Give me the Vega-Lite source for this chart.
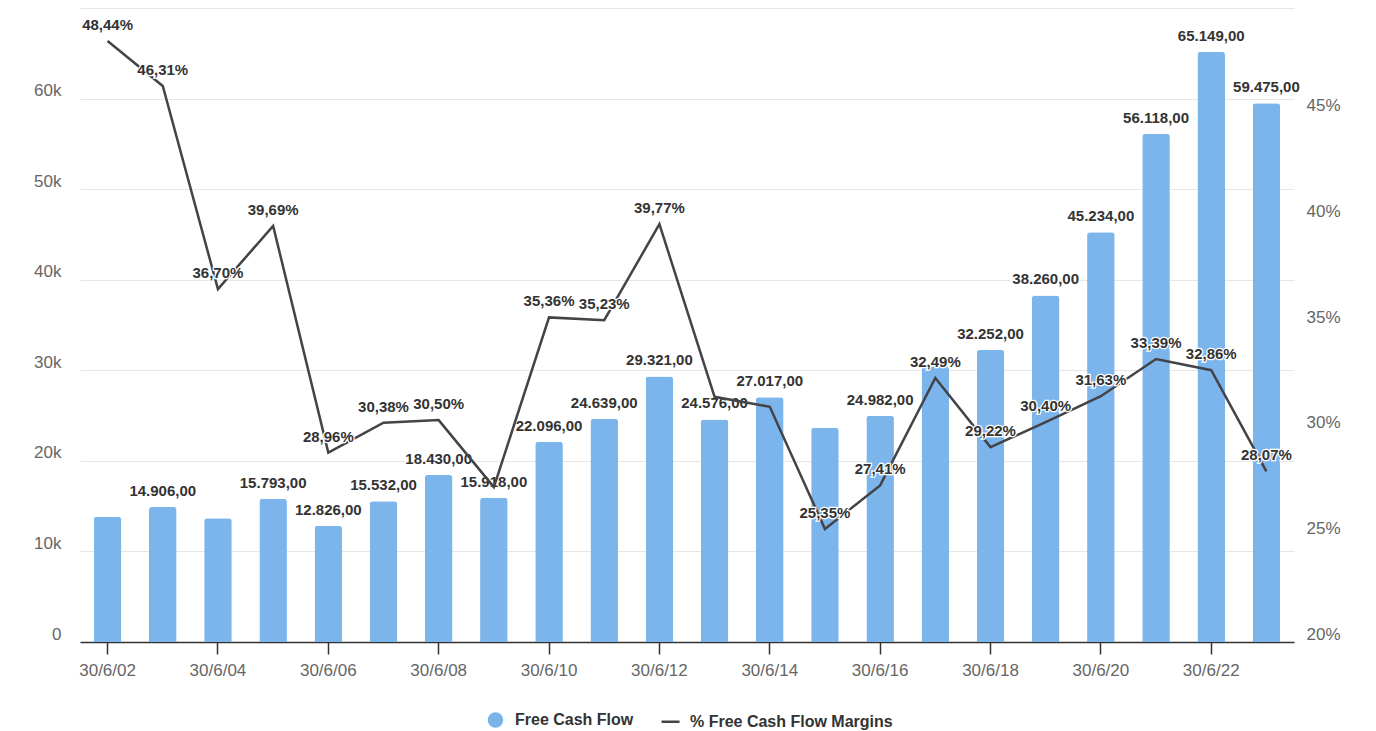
{
  "$schema": "https://vega.github.io/schema/vega-lite/v6.json",
  "width": 1214,
  "height": 634,
  "autosize": {"type": "none"},
  "padding": {"left": 80, "top": 8, "right": 82, "bottom": 89},
  "background": "white",
  "config": {
    "view": {"stroke": null},
    "font": "Liberation Sans",
    "axis": {"labelFont": "Liberation Sans", "labelFontSize": 17, "labelColor": "#666666", "title": null}
  },
  "data": {
    "values": [
      {"date": "30/6/02", "fcf": 13830, "fcfLabel": "", "margin": 48.44, "marginLabel": "48,44%"},
      {"date": "30/6/03", "fcf": 14906, "fcfLabel": "14.906,00", "margin": 46.31, "marginLabel": "46,31%"},
      {"date": "30/6/04", "fcf": 13675, "fcfLabel": "", "margin": 36.70, "marginLabel": "36,70%"},
      {"date": "30/6/05", "fcf": 15793, "fcfLabel": "15.793,00", "margin": 39.69, "marginLabel": "39,69%"},
      {"date": "30/6/06", "fcf": 12826, "fcfLabel": "12.826,00", "margin": 28.96, "marginLabel": "28,96%"},
      {"date": "30/6/07", "fcf": 15532, "fcfLabel": "15.532,00", "margin": 30.38, "marginLabel": "30,38%"},
      {"date": "30/6/08", "fcf": 18430, "fcfLabel": "18.430,00", "margin": 30.50, "marginLabel": "30,50%"},
      {"date": "30/6/09", "fcf": 15918, "fcfLabel": "15.918,00", "margin": 27.33, "marginLabel": ""},
      {"date": "30/6/10", "fcf": 22096, "fcfLabel": "22.096,00", "margin": 35.36, "marginLabel": "35,36%"},
      {"date": "30/6/11", "fcf": 24639, "fcfLabel": "24.639,00", "margin": 35.23, "marginLabel": "35,23%"},
      {"date": "30/6/12", "fcf": 29321, "fcfLabel": "29.321,00", "margin": 39.77, "marginLabel": "39,77%"},
      {"date": "30/6/13", "fcf": 24576, "fcfLabel": "24.576,00", "margin": 31.60, "marginLabel": ""},
      {"date": "30/6/14", "fcf": 27017, "fcfLabel": "27.017,00", "margin": 31.13, "marginLabel": ""},
      {"date": "30/6/15", "fcf": 23650, "fcfLabel": "", "margin": 25.35, "marginLabel": "25,35%"},
      {"date": "30/6/16", "fcf": 24982, "fcfLabel": "24.982,00", "margin": 27.41, "marginLabel": "27,41%"},
      {"date": "30/6/17", "fcf": 30440, "fcfLabel": "", "margin": 32.49, "marginLabel": "32,49%"},
      {"date": "30/6/18", "fcf": 32252, "fcfLabel": "32.252,00", "margin": 29.22, "marginLabel": "29,22%"},
      {"date": "30/6/19", "fcf": 38260, "fcfLabel": "38.260,00", "margin": 30.40, "marginLabel": "30,40%"},
      {"date": "30/6/20", "fcf": 45234, "fcfLabel": "45.234,00", "margin": 31.63, "marginLabel": "31,63%"},
      {"date": "30/6/21", "fcf": 56118, "fcfLabel": "56.118,00", "margin": 33.39, "marginLabel": "33,39%"},
      {"date": "30/6/22", "fcf": 65149, "fcfLabel": "65.149,00", "margin": 32.86, "marginLabel": "32,86%"},
      {"date": "30/6/23", "fcf": 59475, "fcfLabel": "59.475,00", "margin": 28.07, "marginLabel": "28,07%"}
    ]
  },
  "encoding": {
    "x": {
      "field": "date",
      "type": "nominal",
      "sort": null,
      "scale": {"paddingInner": 0.5, "paddingOuter": 0.25},
      "axis": {
        "values": ["30/6/02", "30/6/04", "30/6/06", "30/6/08", "30/6/10", "30/6/12", "30/6/14", "30/6/16", "30/6/18", "30/6/20", "30/6/22"],
        "labelAngle": 0,
        "domainColor": "#333333",
        "domainWidth": 1.5,
        "tickColor": "#333333",
        "tickSize": 12,
        "tickWidth": 1.5,
        "labelPadding": 8,
        "grid": false
      }
    }
  },
  "layer": [
    {
      "layer": [
        {
          "mark": {"type": "bar", "cornerRadiusTopLeft": 3, "cornerRadiusTopRight": 3},
          "encoding": {
            "y": {
              "field": "fcf",
              "type": "quantitative",
              "scale": {"domain": [0, 70000], "nice": false},
              "axis": {
                "orient": "left",
                "values": [0, 10000, 20000, 30000, 40000, 50000, 60000, 70000],
                "labelExpr": "datum.value >= 70000 ? '' : (datum.value == 0 ? '0' : (datum.value / 1000) + 'k')",
                "domain": false,
                "ticks": false,
                "grid": true,
                "gridColor": "#e6e6e6",
                "gridWidth": 1,
                "labelPadding": 19,
                "labelBaseline": "alphabetic",
                "labelOffset": -3
              }
            },
            "color": {
              "datum": "Free Cash Flow",
              "type": "nominal",
              "scale": {"domain": ["Free Cash Flow", "% Free Cash Flow Margins"], "range": ["#7cb5ec", "#434348"]},
              "legend": {
                "title": null,
                "orient": "none",
                "legendX": 405,
                "legendY": 701,
                "direction": "horizontal",
                "labelFont": "Liberation Sans",
                "labelFontSize": 16,
                "labelFontWeight": "bold",
                "labelColor": "#333333",
                "labelLimit": 500,
                "labelOffset": 9,
                "columnPadding": 22,
                "symbolSize": 324,
                "encode": {
                  "symbols": {
                    "update": {
                      "shape": {"signal": "datum.value === 'Free Cash Flow' ? 'circle' : 'stroke'"},
                      "size": {"signal": "datum.value === 'Free Cash Flow' ? 170 : 324"},
                      "fill": {"signal": "datum.value === 'Free Cash Flow' ? '#7cb5ec' : 'transparent'"},
                      "stroke": {"signal": "datum.value === 'Free Cash Flow' ? 'transparent' : '#434348'"},
                      "strokeWidth": {"value": 2.5},
                      "opacity": {"value": 1},
                      "fillOpacity": {"value": 1}
                    }
                  }
                }
              }
            }
          }
        },
        {
          "transform": [{"filter": "datum.fcfLabel != ''"}],
          "mark": {"type": "text", "baseline": "middle", "dy": -16, "fontSize": 15, "fontWeight": "bold", "stroke": "white", "strokeWidth": 2.5, "fill": "white"},
          "encoding": {
            "y": {"field": "fcf", "type": "quantitative"},
            "text": {"field": "fcfLabel"}
          }
        },
        {
          "transform": [{"filter": "datum.fcfLabel != ''"}],
          "mark": {"type": "text", "baseline": "middle", "dy": -16, "fontSize": 15, "fontWeight": "bold", "fill": "#333333"},
          "encoding": {
            "y": {"field": "fcf", "type": "quantitative"},
            "text": {"field": "fcfLabel"}
          }
        }
      ]
    },
    {
      "layer": [
        {
          "mark": {"type": "line", "strokeWidth": 2.5, "interpolate": "linear"},
          "encoding": {
            "y": {
              "field": "margin",
              "type": "quantitative",
              "scale": {"domain": [20, 50], "nice": false, "zero": false},
              "axis": {
                "orient": "right",
                "values": [20, 25, 30, 35, 40, 45],
                "labelExpr": "datum.value + '%'",
                "domain": false,
                "ticks": false,
                "grid": false,
                "labelPadding": 12,
                "labelBaseline": "alphabetic",
                "labelOffset": -3
              }
            },
            "color": {"datum": "% Free Cash Flow Margins", "type": "nominal"}
          }
        },
        {
          "transform": [{"filter": "datum.marginLabel != ''"}],
          "mark": {"type": "text", "baseline": "middle", "dy": -16, "fontSize": 15, "fontWeight": "bold", "stroke": "white", "strokeWidth": 2.5, "fill": "white"},
          "encoding": {
            "y": {"field": "margin", "type": "quantitative"},
            "text": {"field": "marginLabel"}
          }
        },
        {
          "transform": [{"filter": "datum.marginLabel != ''"}],
          "mark": {"type": "text", "baseline": "middle", "dy": -16, "fontSize": 15, "fontWeight": "bold", "fill": "#333333"},
          "encoding": {
            "y": {"field": "margin", "type": "quantitative"},
            "text": {"field": "marginLabel"}
          }
        }
      ]
    }
  ],
  "resolve": {"scale": {"y": "independent"}}
}
